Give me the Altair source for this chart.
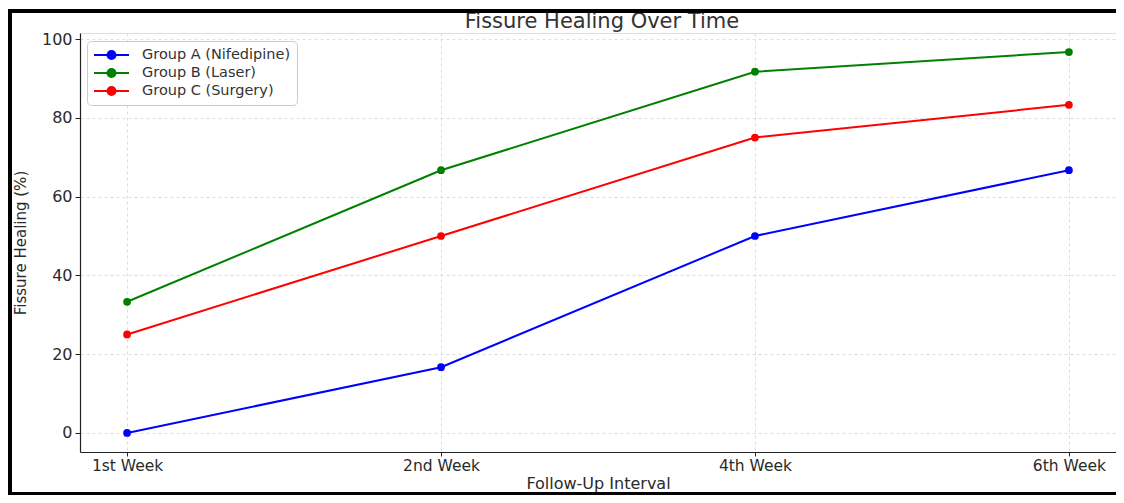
import altair as alt
import pandas as pd

title_text = "Fissure Healing Over Time"
weeks = ["1st Week", "2nd Week", "4th Week", "6th Week"]
groups = ["Group A (Nifedipine)", "Group B (Laser)", "Group C (Surgery)"]
group_a = [0, 16.7, 50, 66.7]
group_b = [33.3, 66.7, 91.7, 96.7]
group_c = [25, 50, 75, 83.3]
colors = ["#0000ff", "#008000", "#ff0000"]
y_ticks = [0, 20, 40, 60, 80, 100]

rows = []
for g, vals in zip(groups, [group_a, group_b, group_c]):
    for w, v in zip(weeks, vals):
        rows.append({"Interval": w, "Healing": v, "Group": g})
df = pd.DataFrame(rows)

W, H = 1036, 419
FONT = "DejaVu Sans"
TXT = "#2a2a2a"

legend_path = ("M-1,0L1,0M-0.23,0A0.23,0.23,0,1,1,0.23,0"
               "A0.23,0.23,0,1,1,-0.23,0Z")

legend = alt.Legend(
    title=None, orient="none", legendX=7, legendY=8,
    symbolType=legend_path, symbolSize=1225, symbolStrokeWidth=2,
    symbolOpacity=1, clipHeight=16, rowPadding=2,
    symbolFillColor={"expr": "scale('color', datum.value)"},
    labelFontSize=14.5, labelFont=FONT, labelColor="#333333", labelOffset=12,
    padding=6, fillColor="rgba(255,255,255,0.85)", strokeColor="#cccccc",
    cornerRadius=4,
)

base = alt.Chart(df).encode(
    x=alt.X(
        "Interval:N", sort=weeks,
        scale=alt.Scale(type="point", padding=0.15),
        axis=alt.Axis(
            title="Follow-Up Interval", labelAngle=0, labelFontSize=15.5,
            labelFont=FONT, labelColor=TXT, tickSize=4, labelPadding=2,
            titleFontSize=16, titleFont=FONT, titleColor=TXT, titleFontWeight="normal",
            titlePadding=2, grid=True, gridDash=[3, 3], gridColor="#d4d4d4",
            gridWidth=0.8, domainColor="#222222", domainWidth=1.2,
            tickColor="#222222", tickWidth=1.0,
        ),
    ),
    y=alt.Y(
        "Healing:Q",
        scale=alt.Scale(domain=[-4.835, 101.535], nice=False, zero=False),
        axis=alt.Axis(
            title="Fissure Healing (%)", values=y_ticks, labelFontSize=16,
            labelFont=FONT, labelColor=TXT, tickSize=5, labelPadding=3,
            titleFontSize=15, titleFont=FONT, titleColor=TXT, titleFontWeight="normal",
            titleX=-52, titleY=H / 2, grid=True, gridDash=[3, 3],
            gridColor="#d4d4d4", gridWidth=0.8, domainColor="#222222",
            domainWidth=1.2, tickColor="#222222", tickWidth=1.0,
        ),
    ),
    color=alt.Color("Group:N", scale=alt.Scale(domain=groups, range=colors),
                    legend=legend),
)

lines = base.mark_line(strokeWidth=2, point=alt.OverlayMarkDef(filled=True, size=60, opacity=1))

one = pd.DataFrame({"k": [0]})
title_mark = alt.Chart(one).mark_text(
    text=title_text, fontSize=21, font=FONT, color="#333333",
    align="center", baseline="alphabetic",
).encode(x=alt.value(W / 2 + 4), y=alt.value(-5))
top_border = alt.Chart(one).mark_rule(color="black", strokeWidth=4).encode(
    x=alt.value(-72), x2=alt.value(W), y=alt.value(-22))
left_border = alt.Chart(one).mark_rule(color="black", strokeWidth=4).encode(
    x=alt.value(-70), y=alt.value(-24), y2=alt.value(462))
bottom_border = alt.Chart(one).mark_rule(color="black", strokeWidth=3).encode(
    x=alt.value(-72), x2=alt.value(W), y=alt.value(460.5))

chart = alt.layer(lines, title_mark, top_border, left_border, bottom_border).properties(
    width=W, height=H,
    autosize=alt.AutoSizeParams(type="none"),
    padding={"left": 72, "top": 25, "right": 0, "bottom": 487 - 25 - H},
).configure_view(stroke=None).configure(background="white")

chart.save("out.html", embed_options={"renderer": "svg", "actions": False})
